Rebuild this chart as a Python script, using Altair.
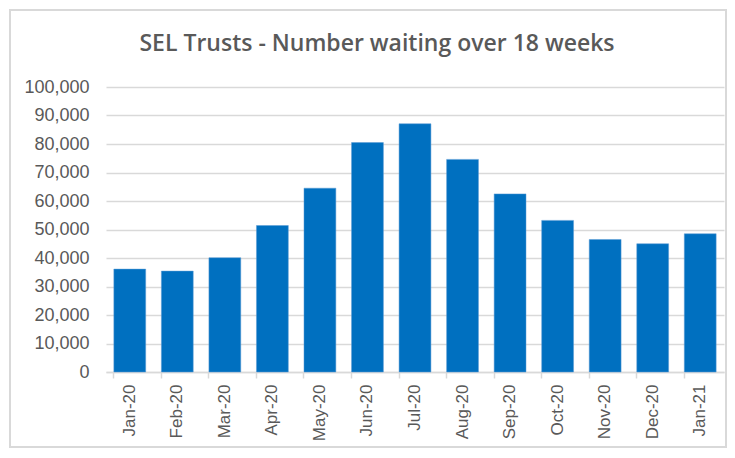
import altair as alt
import pandas as pd

months = ["Jan-20", "Feb-20", "Mar-20", "Apr-20", "May-20", "Jun-20", "Jul-20",
          "Aug-20", "Sep-20", "Oct-20", "Nov-20", "Dec-20", "Jan-21"]
waiting = [36100, 35400, 40100, 51400, 64500, 80500, 87100,
           74600, 62500, 53200, 46500, 45000, 48500]
y_ticks = list(range(0, 100001, 10000))

df = pd.DataFrame({"month": months, "waiting": waiting})

W, H = 618, 285

bars = alt.Chart(df).mark_bar(color="#0070C0", stroke="#5B9BD5", strokeWidth=0.5).encode(
    x=alt.X("month:N", sort=months, title=None,
            scale=alt.Scale(paddingInner=0.33, paddingOuter=0.165),
            axis=alt.Axis(labelAngle=-90, labelFont="Liberation Sans", labelFontSize=17,
                          labelColor="#595959", labelPadding=6, tickSize=6,
                          tickColor="#D9D9D9", domainColor="#D9D9D9", domainWidth=1.5,
                          tickWidth=1.5, bandPosition=0, grid=False, labelBaseline="middle",
                          labelAlign="right")),
    y=alt.Y("waiting:Q", title=None,
            scale=alt.Scale(domain=[0, 100000], nice=False),
            axis=alt.Axis(values=y_ticks, format=",.0f", labelFont="Liberation Sans",
                          labelFontSize=18, labelColor="#595959", labelPadding=17,
                          ticks=False, domain=False, gridColor="#D9D9D9", gridWidth=1.5)),
)

frame = alt.Chart(df).mark_rect(filled=False, stroke="#D9D9D9", strokeWidth=1.5).encode(
    x=alt.value(-96), x2=alt.value(W + 2), y=alt.value(-77), y2=alt.value(H + 75)
)

chart = alt.layer(frame, bars).properties(
    width=W, height=H,
    title=alt.TitleParams("SEL Trusts - Number waiting over 18 weeks", font="Open Sans",
                          fontSize=23, fontWeight=600, color="#595959",
                          anchor="middle", dx=-38, offset=-47),
    autosize=alt.AutoSizeParams(type="none"),
    padding={"left": 98, "top": 79, "right": 3, "bottom": 78},
).configure_view(stroke=None)

chart.save("out.html", embed_options={"renderer": "svg", "actions": False})
